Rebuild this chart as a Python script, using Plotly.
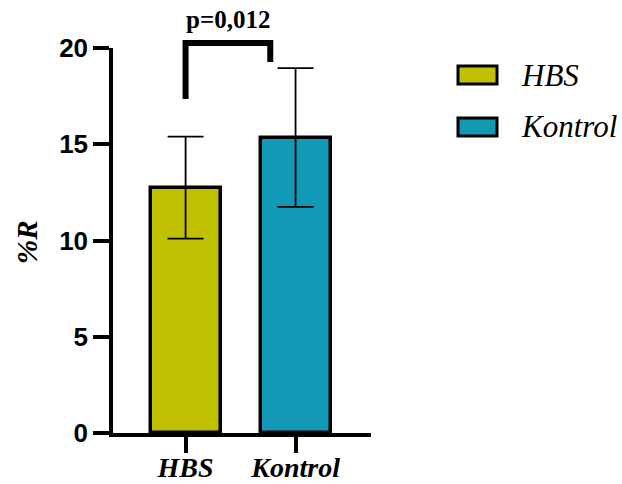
import plotly.graph_objects as go

# Group means and standard deviations of %R
groups = ["HBS", "Kontrol"]
means = [12.75, 15.35]
sds = [2.65, 3.6]
colors = ["#C0C000", "#1199B5"]

# Significance bracket between the groups
p_label = "p=0,012"
bracket_x = [0.0, 0.77]          # category positions of the bracket legs
bracket_top = 20.26
bracket_left_end = 17.35
bracket_right_end = 19.27

y_ticks = [0, 5, 10, 15, 20]

# Plot area geometry
W, H = 622, 484
M_L, M_R, M_T, M_B = 113, 251, 48, 51
X_RANGE = [-0.66, 1.686]
Y_RANGE = [0, 20]
PW = W - M_L - M_R
PH = H - M_T - M_B


def xp(cat):
    """category coordinate -> paper fraction"""
    return (cat - X_RANGE[0]) / (X_RANGE[1] - X_RANGE[0])


def yp(val):
    """data value -> paper fraction"""
    return (val - Y_RANGE[0]) / (Y_RANGE[1] - Y_RANGE[0])


def px_x(px):
    return (px - M_L) / PW


def px_y(py):
    return (H - M_B - py) / PH


fig = go.Figure()
for i, g in enumerate(groups):
    fig.add_trace(go.Bar(
        x=[i], y=[means[i]], name=g, width=0.636,
        marker=dict(color=colors[i], line=dict(color="black", width=3.5)),
        error_y=dict(type="data", array=[sds[i]], visible=True,
                     color="black", thickness=1.8, width=18),
        showlegend=False,
    ))

serif = "Liberation Serif"
sans = "Liberation Sans"

# significance bracket
lw = 6
fig.add_shape(type="path", xref="paper", yref="paper",
              path=(f"M {xp(bracket_x[0])},{yp(bracket_left_end)} "
                    f"L {xp(bracket_x[0])},{yp(bracket_top)} "
                    f"L {xp(bracket_x[1])},{yp(bracket_top)} "
                    f"L {xp(bracket_x[1])},{yp(bracket_right_end)}"),
              line=dict(color="black", width=lw))
fig.add_annotation(xref="paper", yref="paper",
                   x=(xp(bracket_x[0]) + xp(bracket_x[1])) / 2,
                   y=px_y(20), text=p_label, showarrow=False,
                   xanchor="center", yanchor="middle",
                   font=dict(family=serif, size=25, color="black", weight="bold"))

# y axis title
fig.add_annotation(xref="paper", yref="paper", x=px_x(27), y=px_y(242),
                   text="%R", textangle=-90, showarrow=False,
                   xanchor="center", yanchor="middle",
                   font=dict(family=serif, size=29, color="black",
                             weight="bold", style="italic"))

# legend
legend_rows = [75, 127]
for g, c, yc in zip(groups, colors, legend_rows):
    fig.add_shape(type="rect", xref="paper", yref="paper",
                  x0=px_x(458), x1=px_x(497),
                  y0=px_y(yc - 9), y1=px_y(yc + 9),
                  fillcolor=c, line=dict(color="black", width=3))
    fig.add_annotation(xref="paper", yref="paper", x=px_x(519), y=px_y(yc),
                       text=g, showarrow=False, xanchor="left", yanchor="middle",
                       font=dict(family=serif, size=31, color="black",
                                 style="italic"))

fig.update_layout(
    width=W, height=H,
    margin=dict(l=M_L, r=M_R, t=M_T, b=M_B, autoexpand=False),
    plot_bgcolor="white", paper_bgcolor="white",
    bargap=0,
)
fig.update_xaxes(
    range=X_RANGE, tickmode="array", tickvals=list(range(len(groups))),
    ticktext=groups, showline=True, linecolor="black", linewidth=3.5,
    ticks="outside", ticklen=16, tickwidth=3.5, tickcolor="black",
    ticklabelstandoff=-9,
    showgrid=False, zeroline=False, automargin=False,
    tickfont=dict(family=serif, size=28, color="black",
                  weight="bold", style="italic"),
)
fig.update_yaxes(
    range=Y_RANGE, tickmode="array", tickvals=y_ticks,
    showline=True, linecolor="black", linewidth=3.5,
    ticks="outside", ticklen=16, tickwidth=3.5, tickcolor="black",
    showgrid=False, zeroline=False, automargin=False,
    tickfont=dict(family=sans, size=26, color="black", weight="bold"),
)

fig.write_html("out.html")
